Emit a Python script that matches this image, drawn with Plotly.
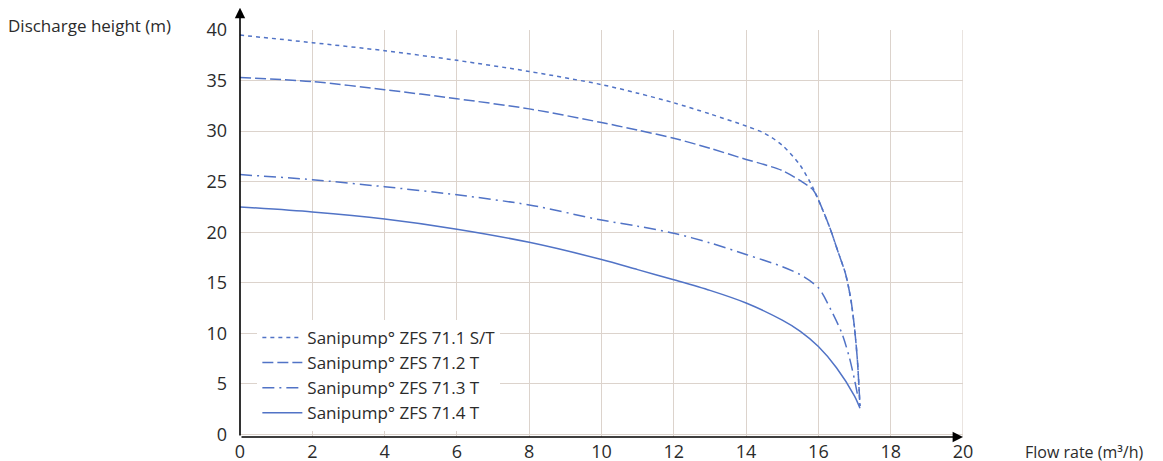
import plotly.graph_objects as go

# flow rate (m3/h) and discharge height (m)
names = ["Sanipump\u00b0 ZFS 71.1 S/T", "Sanipump\u00b0 ZFS 71.2 T",
         "Sanipump\u00b0 ZFS 71.3 T", "Sanipump\u00b0 ZFS 71.4 T"]

x_711 = [0, 2, 4, 6, 8, 10, 11, 12, 13, 14, 14.5, 15, 15.5, 15.85, 16, 16.3, 16.55, 16.75, 16.9, 17.0, 17.08, 17.15]
y_711 = [39.5, 38.75, 37.95, 37.0, 35.9, 34.6, 33.75, 32.8, 31.7, 30.5, 29.8, 28.6, 26.6, 24.4, 23.2, 20.6, 18.0, 15.9, 13.3, 10.5, 7.3, 2.8]

x_712 = [0, 2, 4, 6, 8, 10, 11, 12, 13, 14, 14.5, 15, 15.5, 15.85, 16, 16.3, 16.55, 16.75, 16.9, 17.0, 17.08, 17.15]
y_712 = [35.3, 34.9, 34.1, 33.2, 32.2, 30.85, 30.1, 29.3, 28.3, 27.2, 26.7, 26.1, 25.1, 24.2, 23.2, 20.6, 18.0, 15.9, 13.3, 10.5, 7.3, 2.8]

x_713 = [0, 2, 4, 6, 8, 10, 11, 12, 13, 14, 15, 15.5, 16, 16.35, 16.65, 16.85, 17.0, 17.1]
y_713 = [25.7, 25.2, 24.5, 23.7, 22.7, 21.2, 20.6, 19.9, 18.95, 17.8, 16.6, 15.8, 14.5, 12.3, 10.0, 7.7, 5.4, 3.6]

x_714 = [0, 2, 4, 6, 8, 10, 11, 12, 13, 14, 15, 15.5, 16, 16.5, 17.0, 17.15]
y_714 = [22.5, 22.0, 21.3, 20.3, 19.0, 17.3, 16.3, 15.3, 14.25, 13.0, 11.3, 10.2, 8.7, 6.6, 3.8, 2.6]

x_ticks = list(range(0, 21, 2))
y_ticks = list(range(0, 41, 5))

blue = "#5173c6"
grid = "#dcd3cc"
ink = "#2b2b2b"

fig = go.Figure()
series = [(x_711, y_711, "4px,4px"), (x_712, y_712, "11px,4px"),
          (x_713, y_713, "12px,5px,2px,5px"), (x_714, y_714, "solid")]
for i, (xs, ys, dash) in enumerate(series):
    fig.add_trace(go.Scatter(x=xs, y=ys, mode="lines", name=names[i],
                             line=dict(color=blue, width=1.5, dash=dash,
                                       shape="spline", smoothing=0.8),
                             legendgroup=str(i)))

fig.update_xaxes(range=[0, 20], tickvals=x_ticks, showgrid=True, gridcolor=grid,
                 gridwidth=1.2, zeroline=False, showline=False, ticks="",
                 ticklabelstandoff=2,
                 tickfont=dict(size=18, color=ink), automargin=False)
fig.update_yaxes(range=[-0.25, 40], tickvals=y_ticks, showgrid=True, gridcolor=grid,
                 gridwidth=1.2, zeroline=False, showline=False, ticks="",
                 ticklabelstandoff=12,
                 tickfont=dict(size=18, color=ink), automargin=False)

# right border of the grid
fig.add_shape(type="line", x0=20, x1=20, y0=-0.25, y1=40, xref="x", yref="y",
              line=dict(color=grid, width=1.2), layer="below")

# axes with arrow heads
fig.add_annotation(x=20, y=-0.25, ax=0, ay=-0.25, xref="x", yref="y",
                   axref="x", ayref="y", showarrow=True, arrowhead=2,
                   arrowsize=1.3, arrowwidth=1.6, arrowcolor="black", text="")
fig.add_annotation(x=0, y=42.2, ax=0, ay=-0.25, xref="x", yref="y",
                   axref="x", ayref="y", showarrow=True, arrowhead=2,
                   arrowsize=1.3, arrowwidth=1.6, arrowcolor="black", text="")

fig.add_annotation(text="Discharge height (m)", xref="paper", yref="paper",
                   x=-0.323, y=1.01, xanchor="left", yanchor="middle",
                   showarrow=False, font=dict(size=17, color=ink))
fig.add_annotation(text="Flow rate (m\u00b3/h)", xref="paper", yref="paper",
                   x=1.083, y=-0.037, xanchor="left", yanchor="middle",
                   showarrow=False, font=dict(size=16, color=ink))

# page body adds an 8px offset, so margins are shifted to compensate
fig.update_layout(
    width=1163, height=461,
    margin=dict(l=232, r=208, t=22, b=32),
    plot_bgcolor="white", paper_bgcolor="white",
    font=dict(family="Open Sans, Lato, sans-serif", color=ink),
    legend=dict(x=0.024, y=0.015, xanchor="left", yanchor="bottom",
                bgcolor="white", font=dict(size=17, color=ink),
                tracegroupgap=0, itemwidth=40),
)

fig.write_html("out.html")
